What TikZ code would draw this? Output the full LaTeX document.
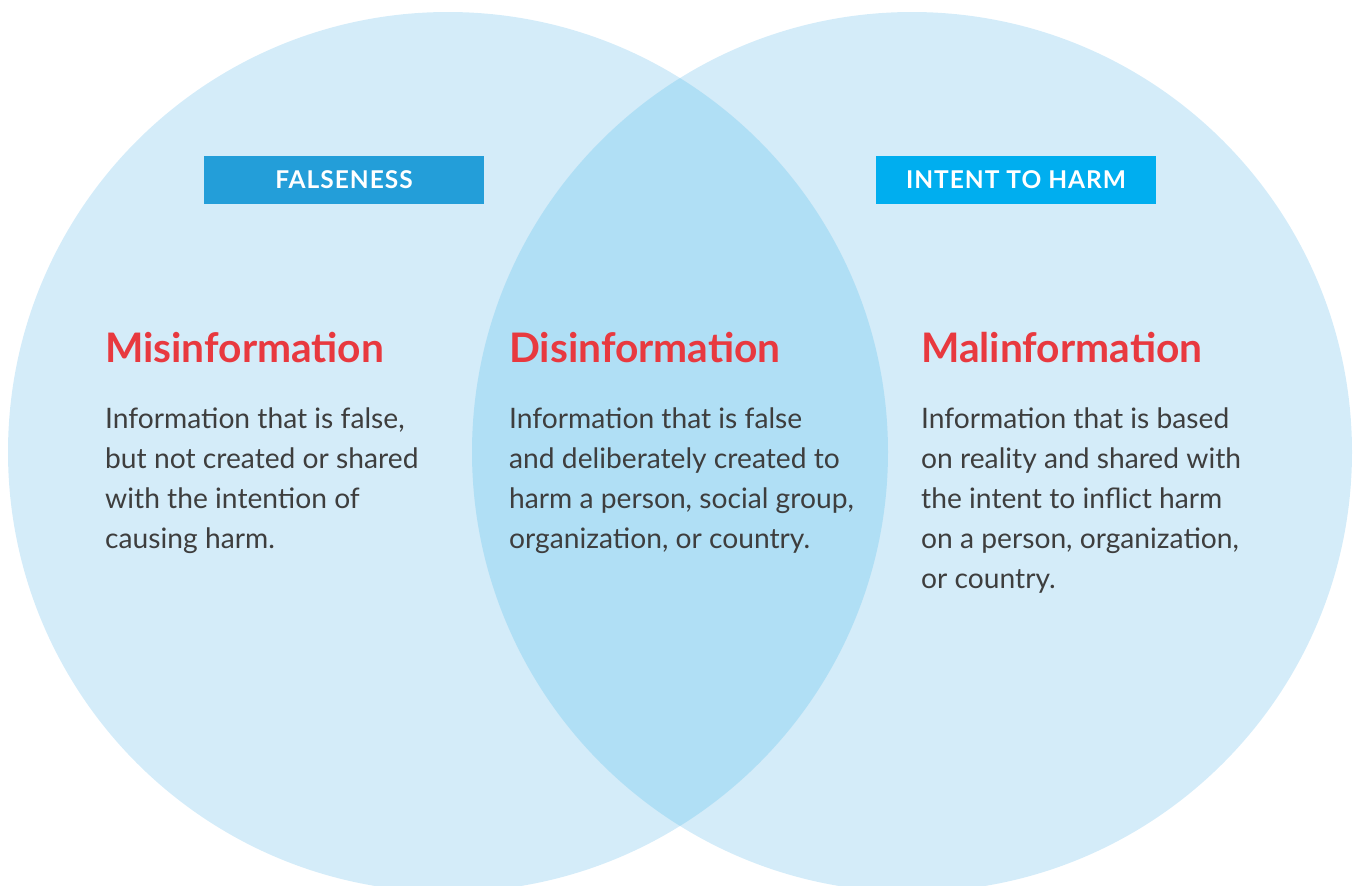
\documentclass[tikz,border=0pt]{standalone}
\usepackage{fontspec}
\setmainfont{Lato}[Ligatures={Common,Rare}]
\definecolor{circ}{HTML}{D4ECF9}
\definecolor{lens}{HTML}{B0DFF5}
\definecolor{boxA}{HTML}{239ED9}
\definecolor{boxB}{HTML}{00AEEF}
\definecolor{titred}{HTML}{E8393F}
\definecolor{bodyg}{HTML}{3E3E3E}
\tikzset{
  tag/.style={minimum width=280pt, minimum height=48pt, inner sep=0pt, text=white,
    font=\fontsize{24.5}{28}\selectfont\bfseries\addfontfeature{LetterSpace=4}},
  ttl/.style={anchor=base west, inner sep=0pt, text=titred, font=\fontsize{40.7}{48}\selectfont\bfseries},
  body/.style={anchor=base west, inner sep=0pt, text=bodyg, align=left, font=\fontsize{28.2}{40}\selectfont}
}
\begin{document}
\begin{tikzpicture}[x=1pt,y=-1pt]
\useasboundingbox (0,0) rectangle (1353,886);
\clip (0,0) rectangle (1353,886);
\fill[circ] (448,452) circle (440);
\fill[circ] (912,452) circle (440);
\begin{scope}
\clip (448,452) circle (440);
\fill[lens] (912,452) circle (440);
\end{scope}
\node[tag, fill=boxA] (fal) at (344,180) {FALSENESS};
\node[tag, fill=boxB] (int) at (1016,180) {INTENT TO HARM};
\node[ttl] (mis) at (105,362) {Misinformation};
\node[ttl] (dis) at (509,362) {Disinformation};
\node[ttl] (mal) at (921,362) {Malinformation};
\node[body] (misb) at (105,548) {Information that is false,\\but not created or shared\\with the intention of\\causing harm.};
\node[body] (disb) at (509,548) {Information that is false\\and deliberately created to\\harm a person, social group,\\organization, or country.};
\node[body] (malb) at (921,588) {Information that is based\\on reality and shared with\\the intent to inflic\kern0pt t harm\\on a person, organization,\\or country.};
\end{tikzpicture}
\end{document}
